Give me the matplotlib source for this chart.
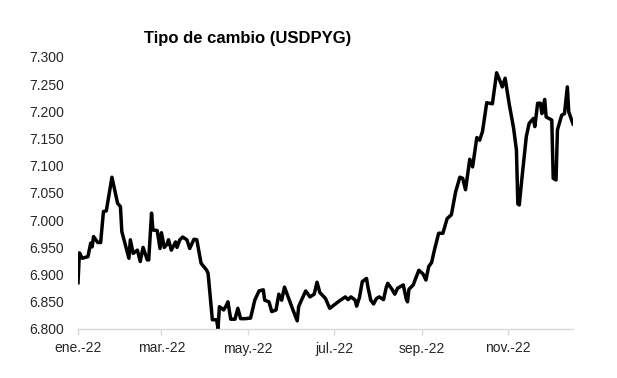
import matplotlib
matplotlib.use("Agg")
import matplotlib.pyplot as plt
import pandas as pd

plt.rcParams['font.family'] = ['Liberation Sans', 'DejaVu Sans']

title = "Tipo de cambio (USDPYG)"

dates = [
    "2022-01-01", "2022-01-02", "2022-01-04", "2022-01-08", "2022-01-10", "2022-01-11",
    "2022-01-12", "2022-01-15", "2022-01-17", "2022-01-19", "2022-01-21", "2022-01-25",
    "2022-01-29", "2022-01-31", "2022-02-01", "2022-02-06", "2022-02-07", "2022-02-09",
    "2022-02-12", "2022-02-14", "2022-02-16", "2022-02-19", "2022-02-20", "2022-02-22",
    "2022-02-23", "2022-02-26", "2022-02-28", "2022-03-01", "2022-03-03", "2022-03-05",
    "2022-03-06", "2022-03-08", "2022-03-11", "2022-03-12", "2022-03-14", "2022-03-16",
    "2022-03-19", "2022-03-21", "2022-03-24", "2022-03-26", "2022-03-29", "2022-04-02",
    "2022-04-03", "2022-04-06", "2022-04-09", "2022-04-10", "2022-04-11", "2022-04-14",
    "2022-04-16", "2022-04-17", "2022-04-19", "2022-04-22", "2022-04-24", "2022-04-26",
    "2022-04-29", "2022-05-03", "2022-05-06", "2022-05-09", "2022-05-12", "2022-05-13",
    "2022-05-16", "2022-05-18", "2022-05-21", "2022-05-23", "2022-05-25", "2022-05-27",
    "2022-05-30", "2022-06-02", "2022-06-05", "2022-06-06", "2022-06-08", "2022-06-11",
    "2022-06-14", "2022-06-17", "2022-06-19", "2022-06-21", "2022-06-25", "2022-06-28",
    "2022-07-02", "2022-07-05", "2022-07-09", "2022-07-11", "2022-07-13", "2022-07-16",
    "2022-07-17", "2022-07-19", "2022-07-21", "2022-07-24", "2022-07-25", "2022-07-27",
    "2022-07-29", "2022-07-31", "2022-08-02", "2022-08-05", "2022-08-07", "2022-08-08",
    "2022-08-11", "2022-08-13", "2022-08-15", "2022-08-19", "2022-08-21", "2022-08-22",
    "2022-08-23", "2022-08-26", "2022-08-30", "2022-09-02", "2022-09-04", "2022-09-06",
    "2022-09-08", "2022-09-10", "2022-09-13", "2022-09-16", "2022-09-19", "2022-09-22",
    "2022-09-25", "2022-09-28", "2022-09-30", "2022-10-02", "2022-10-05", "2022-10-07",
    "2022-10-10", "2022-10-12", "2022-10-14", "2022-10-17", "2022-10-21", "2022-10-24",
    "2022-10-27", "2022-10-28", "2022-10-30", "2022-10-31", "2022-11-02", "2022-11-05",
    "2022-11-07", "2022-11-08", "2022-11-09", "2022-11-11", "2022-11-14", "2022-11-16",
    "2022-11-19", "2022-11-20", "2022-11-22", "2022-11-24", "2022-11-25", "2022-11-27",
    "2022-11-28", "2022-12-02", "2022-12-03", "2022-12-05", "2022-12-06", "2022-12-09",
    "2022-12-11", "2022-12-13", "2022-12-14", "2022-12-17",
]

usdpyg = [
    6.885, 6.940, 6.930, 6.933, 6.958, 6.951,
    6.970, 6.959, 6.959, 7.016, 7.017, 7.079,
    7.031, 7.025, 6.979, 6.930, 6.964, 6.939,
    6.945, 6.924, 6.950, 6.927, 6.927, 7.013,
    6.982, 6.981, 6.948, 6.977, 6.950, 6.956,
    6.964, 6.945, 6.960, 6.950, 6.964, 6.969,
    6.964, 6.948, 6.965, 6.964, 6.921, 6.908,
    6.902, 6.817, 6.817, 6.801, 6.841, 6.835,
    6.844, 6.850, 6.818, 6.818, 6.838, 6.819,
    6.819, 6.820, 6.853, 6.870, 6.872, 6.853,
    6.850, 6.832, 6.835, 6.864, 6.853, 6.877,
    6.856, 6.835, 6.815, 6.841, 6.853, 6.870,
    6.859, 6.864, 6.886, 6.867, 6.856, 6.838,
    6.846, 6.852, 6.859, 6.854, 6.859, 6.853,
    6.842, 6.858, 6.887, 6.893, 6.877, 6.853,
    6.846, 6.856, 6.859, 6.854, 6.877, 6.884,
    6.873, 6.864, 6.875, 6.881, 6.856, 6.850,
    6.873, 6.881, 6.908, 6.901, 6.890, 6.915,
    6.922, 6.945, 6.976, 6.976, 7.003, 7.010,
    7.052, 7.079, 7.077, 7.056, 7.112, 7.098,
    7.152, 7.147, 7.163, 7.216, 7.214, 7.271,
    7.252, 7.245, 7.261, 7.245, 7.212, 7.169,
    7.129, 7.030, 7.028, 7.080, 7.154, 7.178,
    7.187, 7.172, 7.215, 7.215, 7.196, 7.222,
    7.190, 7.184, 7.077, 7.074, 7.166, 7.193,
    7.196, 7.245, 7.199, 7.177,
]

tick_dates = ["2022-01-01", "2022-03-01", "2022-05-01", "2022-07-01", "2022-09-01", "2022-11-01"]
tick_labels = ["ene.-22", "mar.-22", "may.-22", "jul.-22", "sep.-22", "nov.-22"]
y_ticks = [6.80, 6.85, 6.90, 6.95, 7.00, 7.05, 7.10, 7.15, 7.20, 7.25, 7.30]

x = pd.to_datetime(dates)

fig = plt.figure(figsize=(6.17, 3.78), dpi=100)
ax = fig.add_axes([78/617, 1-329/378, (573-78)/617, (329-57)/378])

ax.plot(x, usdpyg, color='black', lw=2.5, solid_joinstyle='round')

ax.set_xlim(pd.Timestamp("2022-01-01"), pd.Timestamp("2022-12-17"))
ax.set_ylim(6.8, 7.3)

ax.set_yticks(y_ticks)
ax.set_yticklabels([f"{v:.3f}" for v in y_ticks])
ax.set_xticks(pd.to_datetime(tick_dates))
ax.set_xticklabels(tick_labels)

for s in ['top', 'right', 'left']:
    ax.spines[s].set_visible(False)
ax.spines['bottom'].set_color('#d9d9d9')
ax.spines['bottom'].set_linewidth(1.0)

ax.tick_params(axis='y', length=0, pad=10, labelsize=10, labelcolor='#262626')
ax.tick_params(axis='x', length=4, width=1, color='#d9d9d9', pad=5, labelsize=10, labelcolor='#262626')

fig.text(248/617, 1-38/378, title, ha='center', va='center', fontsize=12,
         fontweight='bold', color='black')

fig.savefig("out.png", dpi=100, facecolor='white')
